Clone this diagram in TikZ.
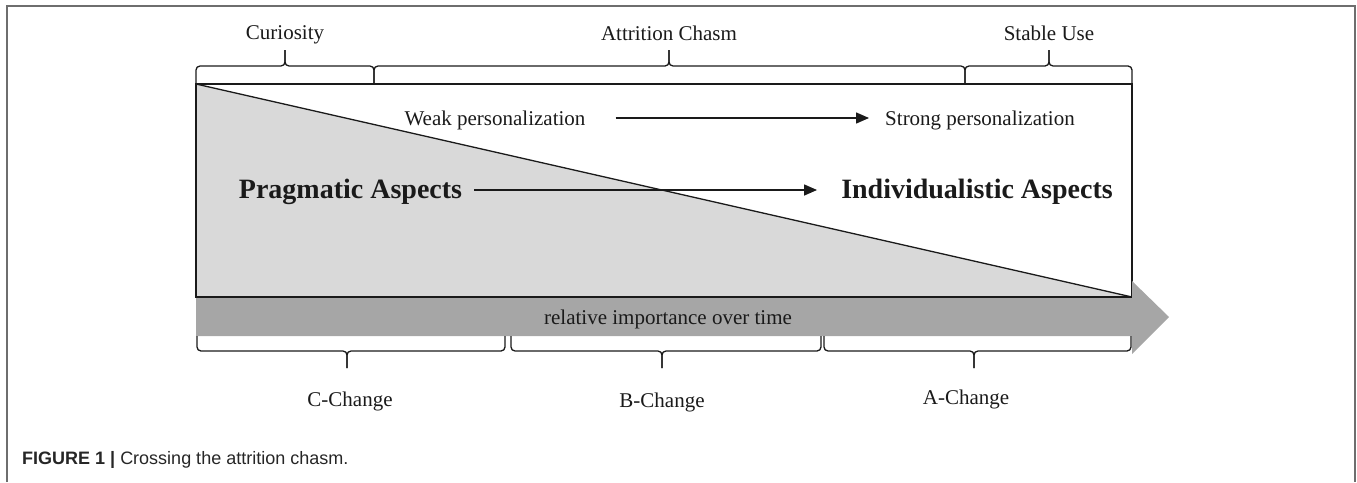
\documentclass[tikz,border=0pt]{standalone}
\usepackage{fontspec}
\setmainfont{Liberation Serif}
\newfontfamily\capfont{Liberation Sans}
\usetikzlibrary{arrows.meta}
\definecolor{lightfill}{HTML}{D9D9D9}
\definecolor{arrowgray}{HTML}{A6A6A6}
\definecolor{ink}{HTML}{1A1A1A}
\definecolor{framegray}{HTML}{6E6E6E}
\begin{document}
\begin{tikzpicture}[x=1pt,y=-1pt,
  lbl/.style={inner sep=0pt,anchor=base,text=ink,font=\fontsize{21}{24}\selectfont},
  bigl/.style={inner sep=0pt,anchor=base,text=ink,font=\fontsize{28}{32}\selectfont\bfseries},
  bracestyle/.style={draw=ink,line width=1.3pt,rounded corners=4pt},
  flowarrow/.style={draw=ink,line width=1.4pt,-{Triangle[length=13pt,width=11pt]}},
  frame/.style={draw=framegray,line width=1.6pt}]
\useasboundingbox (0,0) rectangle (1357,482);
% outer frame
\draw[frame] (7,482) -- (7,6) -- (1355,6) -- (1355,482);
% light gray triangle
\fill[lightfill] (196,84) -- (1132,297) -- (196,297) -- cycle;
% main rectangle and diagonal
\draw[ink,line width=1.3pt] (196,84) rectangle (1132,297);
\draw[ink,line width=1.3pt] (196,84) -- (1132,297);
% big gray arrow
\fill[arrowgray] (196,298) -- (1132,298) -- (1132,281) -- (1169,317) -- (1132,354) -- (1132,336) -- (196,336) -- cycle;
\node[lbl] (rel) at (668,324) {relative importance over time};
% top braces
\draw[bracestyle] (196,84) -- (196,66) -- (285,66) -- (285,50);
\draw[bracestyle] (285,50) -- (285,66) -- (374,66) -- (374,84);
\draw[bracestyle] (374,84) -- (374,66) -- (669,66) -- (669,50);
\draw[bracestyle] (669,50) -- (669,66) -- (965,66) -- (965,84);
\draw[bracestyle] (965,84) -- (965,66) -- (1049,66) -- (1049,50);
\draw[bracestyle] (1049,50) -- (1049,66) -- (1132,66) -- (1132,84);
\node[lbl] (cur) at (285,39) {Curiosity};
\node[lbl] (att) at (669,40) {Attrition Chasm};
\node[lbl] (stab) at (1049,40) {Stable Use};
% bottom braces
\draw[bracestyle] (197,336) -- (197,351) -- (347,351) -- (347,368);
\draw[bracestyle] (347,368) -- (347,351) -- (505,351) -- (505,336);
\draw[bracestyle] (511,336) -- (511,351) -- (662,351) -- (662,368);
\draw[bracestyle] (662,368) -- (662,351) -- (821,351) -- (821,336);
\draw[bracestyle] (824,336) -- (824,351) -- (974,351) -- (974,368);
\draw[bracestyle] (974,368) -- (974,351) -- (1131,351) -- (1131,336);
\node[lbl] (cch) at (350,406) {C-Change};
\node[lbl] (bch) at (662,407) {B-Change};
\node[lbl] (ach) at (966,404) {A-Change};
% personalization
\node[lbl] (weak) at (495,125) {Weak personalization};
\node[lbl] (strong) at (980,125) {Strong personalization};
\draw[flowarrow] ([xshift=30pt,yshift=7pt]weak.base east) -- ([xshift=-16pt,yshift=7pt]strong.base west);
% aspects
\node[bigl] (prag) at (350.5,198) {Pragmatic Aspects};
\node[bigl] (indiv) at (977,198) {Individualistic Aspects};
\draw[flowarrow] ([xshift=12pt,yshift=8pt]prag.base east) -- ([xshift=-24pt,yshift=8pt]indiv.base west);
% caption
\node[inner sep=0pt,anchor=base west,text=black!85,font=\capfont\fontsize{18}{21}\selectfont] (cap) at (22,464) {\textbf{FIGURE 1 |} Crossing the attrition chasm.};
\end{tikzpicture}
\end{document}
